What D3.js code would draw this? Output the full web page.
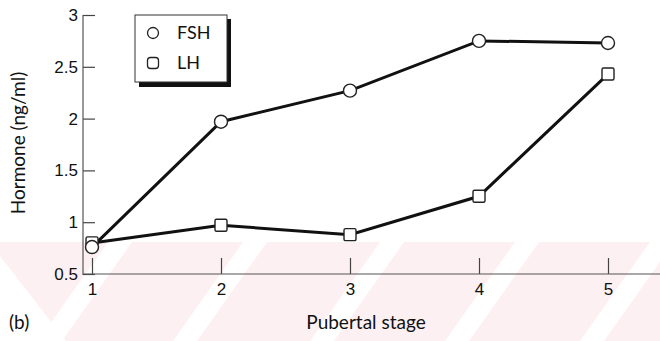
<!DOCTYPE html>
<html>
<head>
<meta charset="utf-8">
<script src="https://cdn.jsdelivr.net/npm/d3@7"></script>
<style>
    body { margin: 0; background: #fff; }
    svg { display: block; font-family: Lato, "Open Sans", sans-serif; }
</style>
</head>
<body>
<svg id="chart" width="660" height="341"></svg>
<script>
// chart values
const stages = [1, 2, 3, 4, 5];
const fsh = [0.76, 1.97, 2.27, 2.75, 2.73];
const lh = [0.8, 0.97, 0.88, 1.25, 2.43];
const yTicks = [0.5, 1, 1.5, 2, 2.5, 3];
const seriesNames = ["FSH", "LH"];

const svg = d3.select("#chart");
const x = d3.scaleLinear().domain([1, 5]).range([92, 608]);
const y = d3.scaleLinear().domain([0.5, 3]).range([274, 15]);

// faint pink watermark behind the lower part of the scan
const wm = svg.append("g");
wm.append("rect").attr("x", 0).attr("y", 242).attr("width", 660).attr("height", 99).attr("fill", "#fdf0f2");
[120, 255, 392, 527, 662].forEach((c) => {
    wm.append("polygon")
        .attr("points", `${c - 12},242 ${c + 12},242 ${c - 58},341 ${c - 82},341`)
        .attr("fill", "#fff");
});
wm.append("polygon").attr("points", "0,256 66,341 0,341").attr("fill", "#fff");

// axes
const yAxis = d3.axisLeft(y).tickValues(yTicks).tickSize(-12).tickPadding(5)
    .tickFormat((d) => d);
const gy = svg.append("g").attr("transform", "translate(83,0)").call(yAxis);
gy.select(".domain").remove();
gy.selectAll(".tick line").attr("stroke", "#444").attr("stroke-width", 1.2);
gy.selectAll("text").attr("font-size", 17).attr("fill", "#111");

const xAxis = d3.axisBottom(x).tickValues(stages).tickSize(-16).tickPadding(9)
    .tickFormat((d) => d);
const gx = svg.append("g").attr("transform", "translate(0,274)").call(xAxis);
gx.select(".domain").remove();
gx.selectAll(".tick line").attr("stroke", "#444").attr("stroke-width", 1.2);
gx.selectAll("text").attr("font-size", 17).attr("fill", "#111");

svg.append("line").attr("x1", 83).attr("x2", 83).attr("y1", y(3)).attr("y2", y(0.5) + 1)
    .attr("stroke", "#555").attr("stroke-width", 1.2);
svg.append("line").attr("x1", 83).attr("x2", 660).attr("y1", y(0.5)).attr("y2", y(0.5))
    .attr("stroke", "#555").attr("stroke-width", 1.2);

// lines
const line = d3.line().x((d, i) => x(stages[i])).y((d) => y(d));
[lh, fsh].forEach((vals) => {
    svg.append("path").attr("d", line(vals))
        .attr("fill", "none").attr("stroke", "#111").attr("stroke-width", 3);
});

// markers
svg.selectAll(".lhMark").data(lh).join("rect")
    .attr("class", "lhMark")
    .attr("x", (d, i) => x(stages[i]) - 6).attr("y", (d) => y(d) - 6)
    .attr("width", 12).attr("height", 12).attr("rx", 1.5)
    .attr("fill", "#fff").attr("stroke", "#222").attr("stroke-width", 1.4);
svg.selectAll(".fshMark").data(fsh).join("circle")
    .attr("class", "fshMark")
    .attr("cx", (d, i) => x(stages[i])).attr("cy", (d) => y(d)).attr("r", 6.5)
    .attr("fill", "#fff").attr("stroke", "#222").attr("stroke-width", 1.4);

// legend
const lg = svg.append("g");
lg.append("rect").attr("x", 139).attr("y", 19).attr("width", 92).attr("height", 68).attr("fill", "#111");
lg.append("rect").attr("x", 135).attr("y", 15).attr("width", 92).attr("height", 67)
    .attr("fill", "#fff").attr("stroke", "#333").attr("stroke-width", 1);
lg.append("circle").attr("cx", 153).attr("cy", 33).attr("r", 5.5)
    .attr("fill", "#fff").attr("stroke", "#222").attr("stroke-width", 1.3);
lg.append("rect").attr("x", 147.5).attr("y", 57.5).attr("width", 11).attr("height", 11).attr("rx", 3)
    .attr("fill", "#fff").attr("stroke", "#222").attr("stroke-width", 1.3);
seriesNames.forEach((n, i) => {
    lg.append("text").attr("x", 177).attr("y", 33 + i * 30).attr("dy", "0.35em")
        .attr("font-size", 18).attr("fill", "#111").text(n);
});

// titles
svg.append("text").attr("x", 366).attr("y", 322).attr("dy", "0.35em")
    .attr("text-anchor", "middle").attr("font-size", 19).attr("fill", "#111").text("Pubertal stage");
svg.append("text").attr("x", 9).attr("y", 322).attr("dy", "0.35em")
    .attr("font-size", 19).attr("fill", "#111").text("(b)");
svg.append("text").attr("transform", "translate(18,143) rotate(-90)").attr("dy", "0.35em")
    .attr("text-anchor", "middle").attr("font-size", 19).attr("fill", "#111").text("Hormone (ng/ml)");
</script>
</body>
</html>
